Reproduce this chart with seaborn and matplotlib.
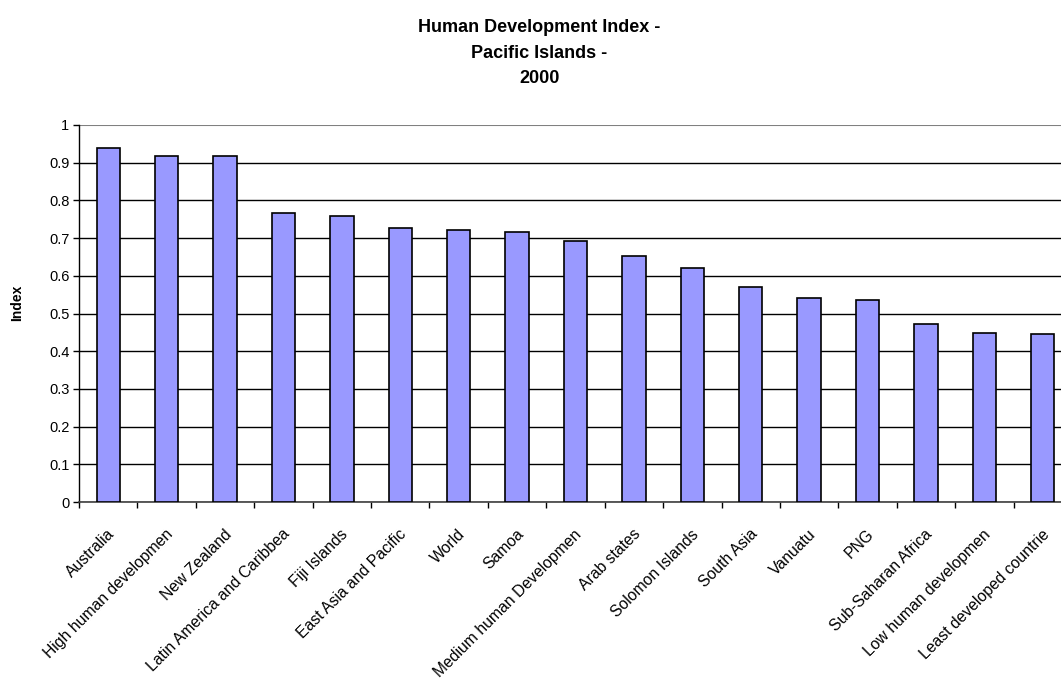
import matplotlib
matplotlib.use("Agg")
import matplotlib.pyplot as plt
from matplotlib.transforms import ScaledTranslation
import seaborn as sns
import numpy as np
import pandas as pd

categories = ["Australia", "High human developmen", "New Zealand", "Latin America and Caribbea",
              "Fiji Islands", "East Asia and Pacific", "World", "Samoa", "Medium human Developmen",
              "Arab states", "Solomon Islands", "South Asia", "Vanuatu", "PNG",
              "Sub-Saharan Africa", "Low human developmen", "Least developed countrie"]
values = [0.939, 0.918, 0.917, 0.767, 0.758, 0.726, 0.722, 0.715, 0.691,
          0.653, 0.622, 0.570, 0.542, 0.535, 0.471, 0.448, 0.445]
ytick_values = [0, 0.1, 0.2, 0.3, 0.4, 0.5, 0.6, 0.7, 0.8, 0.9, 1]
ytick_labels = ["0", "0.1", "0.2", "0.3", "0.4", "0.5", "0.6", "0.7", "0.8", "0.9", "1"]
title = "Human Development Index -\nPacific Islands -\n2000"
ylabel = "Index"

sns.set_theme(style="white")
plt.rcParams['font.family'] = ['Liberation Sans', 'DejaVu Sans']
plt.rcParams['text.color'] = 'black'
plt.rcParams['axes.labelcolor'] = 'black'
plt.rcParams['xtick.color'] = 'black'
plt.rcParams['ytick.color'] = 'black'

df = pd.DataFrame({"cat": categories, "val": values})

fig = plt.figure(figsize=(10.61, 6.82), dpi=100)
ax = fig.add_axes([79/1061, 1 - 502/682, (1072 - 79)/1061, (502 - 125)/682])

sns.barplot(data=df, x="cat", y="val", color="#9999FF", edgecolor="black",
            linewidth=1.2, width=0.4, saturation=1, ax=ax, zorder=3)

ax.set_xlim(-0.5, len(categories) - 0.5)
ax.set_ylim(0, 1)
ax.set_yticks(ytick_values)
ax.set_yticklabels(ytick_labels, fontsize=10.5)
ax.yaxis.grid(True, color="black", linewidth=1)
ax.set_axisbelow(True)
gl = ax.get_ygridlines()
gl[-1].set_color("#808080")
gl[-1].set_linewidth(1.5)

ax.set_xlabel("")
ax.set_ylabel(ylabel, fontsize=10, fontweight="bold")
ax.yaxis.set_label_coords(-0.055, 0.528)

for side in ["top", "right"]:
    ax.spines[side].set_visible(False)
ax.spines["left"].set_color("black")
ax.spines["left"].set_linewidth(1)
ax.spines["bottom"].set_color("#404040")
ax.spines["bottom"].set_linewidth(1.2)

ax.tick_params(axis="y", which="major", direction="out", length=4, width=1,
               color="black", left=True, pad=3, labelcolor="black")
ax.set_xticks(np.arange(len(categories)))
ax.set_xticklabels(categories, fontsize=11.3, rotation=45, ha="right",
                   rotation_mode="anchor", va="center")
ax.tick_params(axis="x", which="major", length=0, pad=21.5, labelcolor="black")
ax.set_xticks(np.arange(-0.5, len(categories), 1), minor=True)
ax.tick_params(axis="x", which="minor", direction="out", length=4, width=1,
               color="black", bottom=True)

offset = ScaledTranslation(4/100, 0, fig.dpi_scale_trans)
for lab in ax.get_xticklabels():
    lab.set_transform(lab.get_transform() + offset)

fig.text(539.5/1061, 1 - 53/682, title, ha="center", va="center", fontsize=13,
         fontweight="bold", linespacing=1.65, color="black")

fig.savefig("out.png", dpi=100)
